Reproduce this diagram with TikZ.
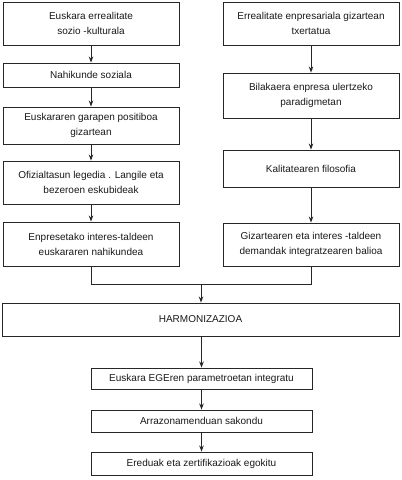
\documentclass[tikz,border=0pt]{standalone}
\usepackage{fontspec}
\setmainfont{Liberation Sans}
\usetikzlibrary{arrows.meta}
\tikzset{
  box/.style={draw=black!85, line width=0.9pt, align=center, inner sep=0pt, font=\fontsize{10}{15}\selectfont, text=black!90},
  lbox/.style={box, minimum width=176pt},
  ebox/.style={box, minimum width=221pt},
  conn/.style={draw=black!85, line width=0.9pt, -{Stealth[length=6pt,width=4.5pt]}},
  plain/.style={draw=black!85, line width=0.9pt}
}
\begin{document}
\begin{tikzpicture}[x=1pt,y=-1pt]
\useasboundingbox (0,0) rectangle (402,480);
% left column
\node[lbox, minimum height=43pt] (l1) at (91,23.5) {Euskara errealitate\\sozio -kulturala};
\node[lbox, minimum height=24pt] (l2) at (91,75) {Nahikunde soziala};
\node[lbox, minimum height=37pt] (l3) at (91,125.5) {Euskararen garapen positiboa\\gizartean};
\node[lbox, minimum height=43pt] (l4) at (91,182.5) {Ofizialtasun legedia . Langile eta\\bezeroen eskubideak};
\node[lbox, minimum height=44pt] (l5) at (91,244) {Enpresetako interes-taldeen\\euskararen nahikundea};
% right column
\node[lbox, minimum height=43pt] (r1) at (311,23.5) {Errealitate enpresariala gizartean\\txertatua};
\node[lbox, minimum height=45pt] (r2) at (311,95.5) {Bilakaera enpresa ulertzeko\\paradigmetan};
\node[lbox, minimum height=37pt] (r3) at (311,168.5) {Kalitatearen filosofia};
\node[lbox, minimum height=43pt] (r4) at (311,244.5) {Gizartearen eta interes -taldeen\\demandak integratzearen balioa};
% harmonization
\node[box, minimum width=397pt, minimum height=33pt] (h) at (200.5,319.5) {HARMONIZAZIOA};
% bottom
\node[ebox, minimum height=21pt] (e1) at (201.5,378.5) {Euskara EGEren parametroetan integratu};
\node[ebox, minimum height=22pt] (e2) at (201.5,421) {Arrazonamenduan sakondu};
\node[ebox, minimum height=23pt] (e3) at (201.5,463.5) {Ereduak eta zertifikazioak egokitu};
\coordinate (j) at (201,284);
% arrows
\draw[conn] (l1) -- (l2);
\draw[conn] (l2) -- (l3);
\draw[conn] (l3) -- (l4);
\draw[conn] (l4) -- (l5);
\draw[conn] (r1) -- (r2);
\draw[conn] (r2) -- (r3);
\draw[conn] (r3) -- (r4);
\draw[plain] (l5.south) |- (j);
\draw[plain] (r4.south) |- (j);
\draw[conn] (j) -- (j |- h.north);
\draw[conn] (h.south -| e1.north) -- (e1);
\draw[conn] (e1) -- (e2);
\draw[conn] (e2) -- (e3);
\end{tikzpicture}
\end{document}
